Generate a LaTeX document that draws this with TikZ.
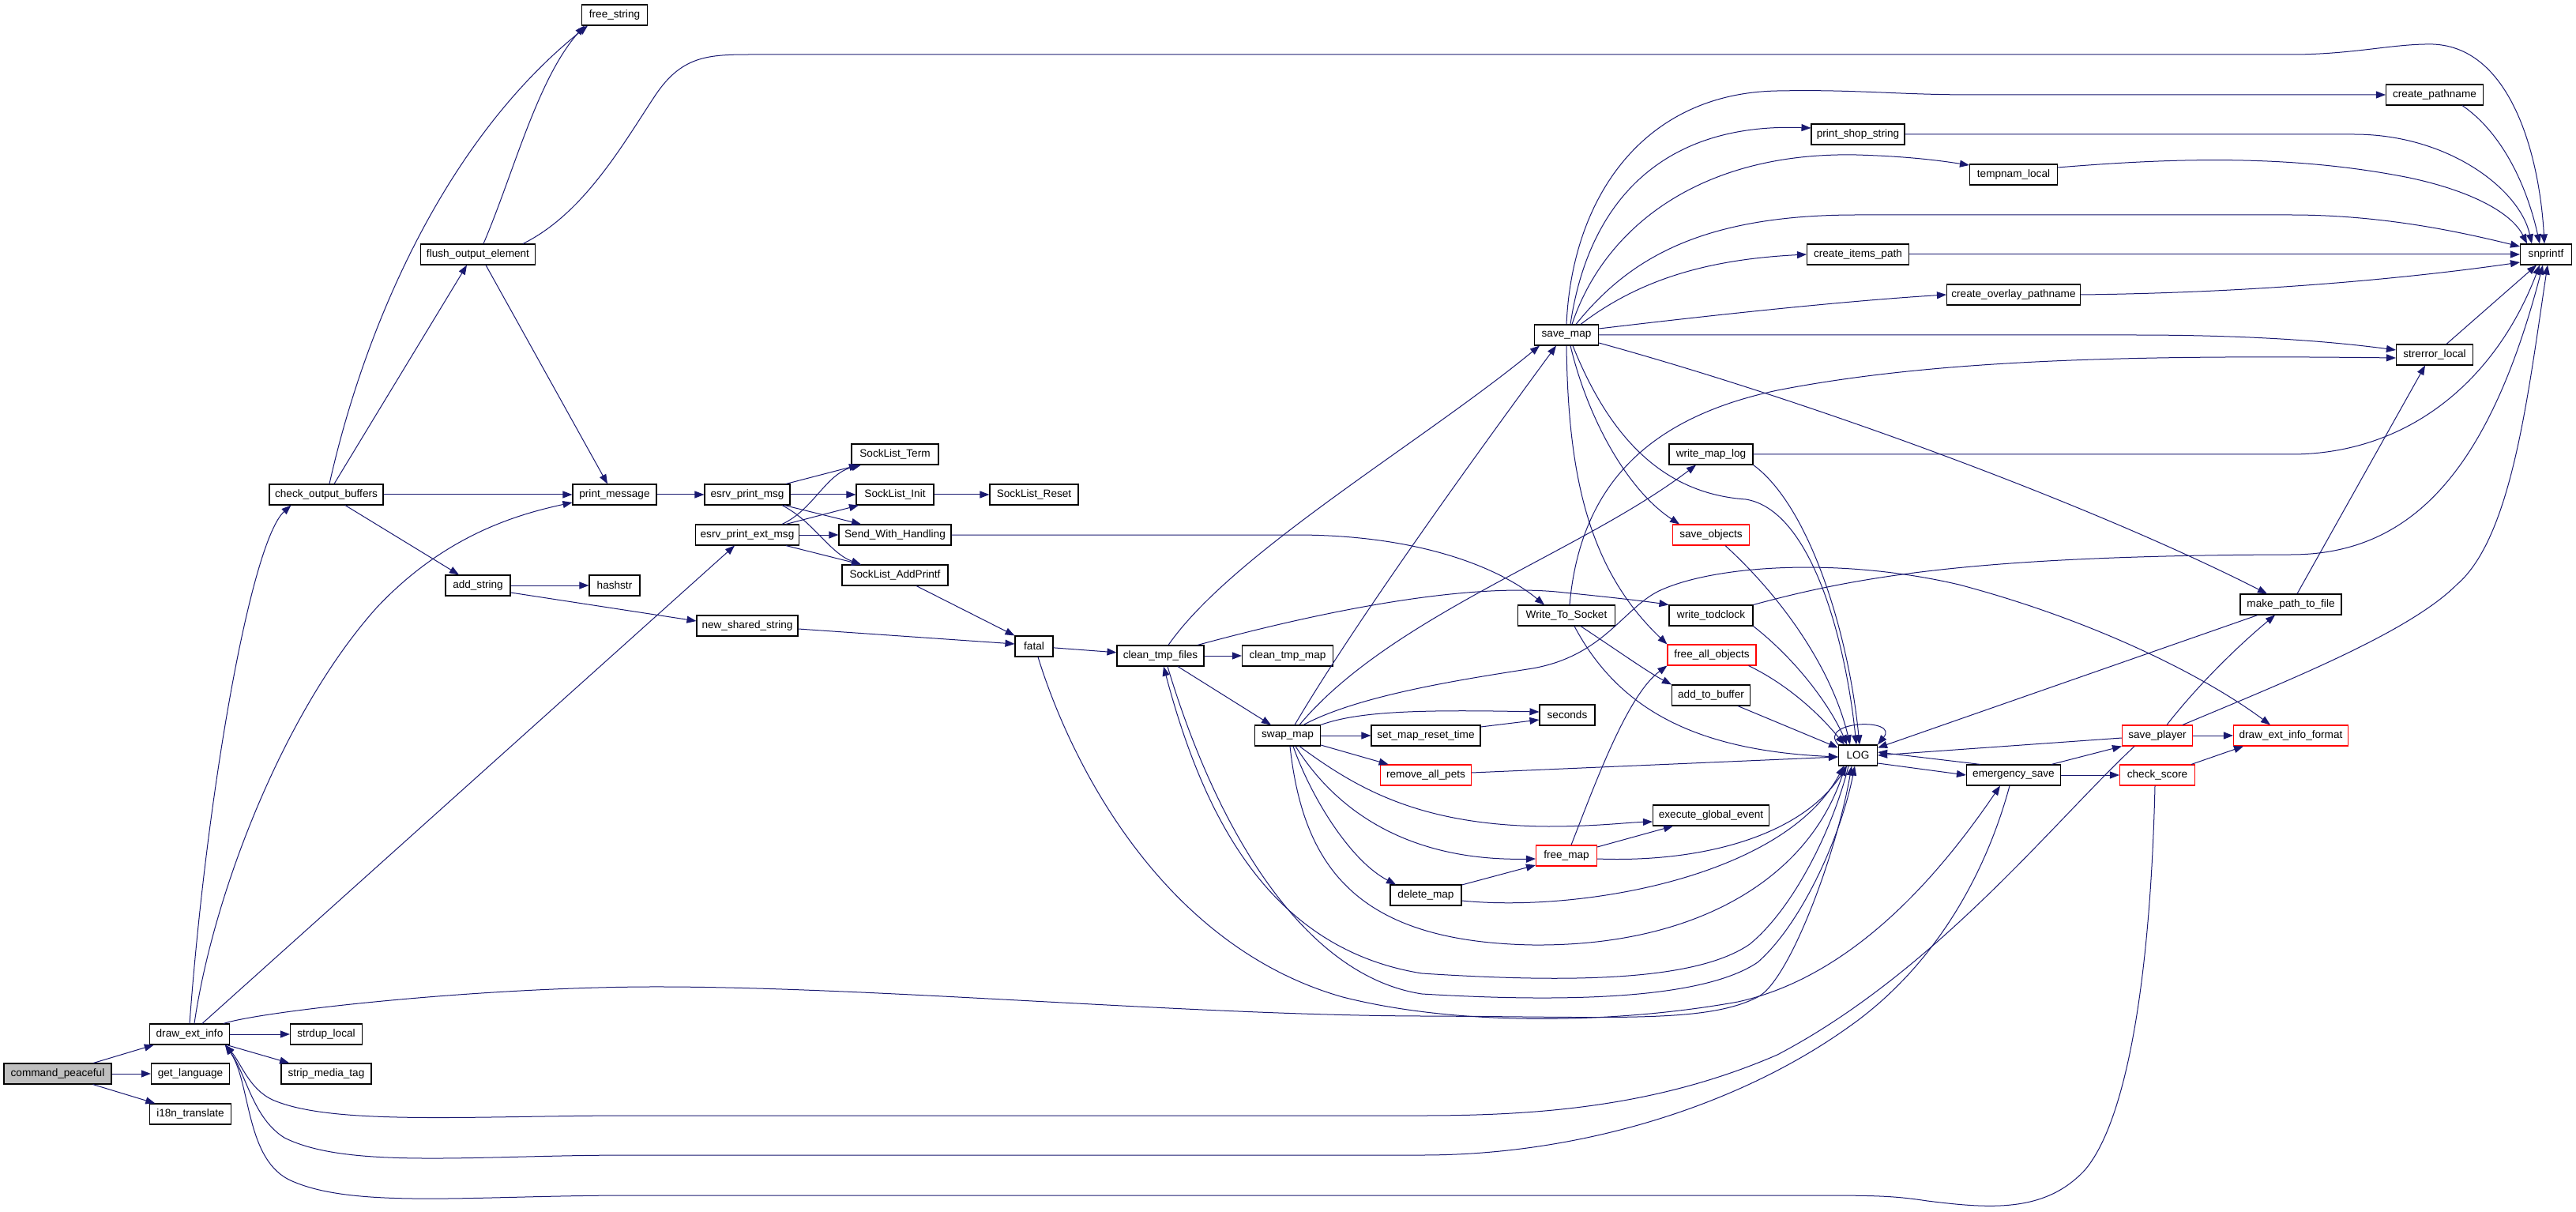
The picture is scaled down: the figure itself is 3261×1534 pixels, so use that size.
\documentclass[tikz,border=0pt]{standalone}
\usepackage{fontspec}
\setmainfont{Liberation Sans}
\usetikzlibrary{arrows.meta}
\definecolor{edgeblue}{RGB}{25,25,112}
\definecolor{nodegray}{RGB}{191,191,191}
\tikzset{
 fn/.style={draw=black, line width=0.55pt, minimum height=13pt, inner xsep=1pt, inner ysep=0pt, font=\fontsize{6.8pt}{7.5pt}\selectfont, fill=white},
 rn/.style={fn, draw=red},
 e/.style={draw=edgeblue, line width=0.5pt, -{Triangle[length=6pt,width=4.5pt]}},
 eb/.style={draw=edgeblue, line width=0.5pt, {Triangle[length=6pt,width=4.5pt]}-},
}
\begin{document}
\begin{tikzpicture}[x=0.5pt,y=-0.5pt]
\path[use as bounding box] (0,0) rectangle (3261,1534);
% nodes
\node[fn, minimum width=68pt, fill=nodegray] (cp) at (73,1359) {command\_peaceful};
\node[fn, minimum width=50.5pt] (dei) at (240,1309) {draw\_ext\_info};
\node[fn, minimum width=49.5pt] (gl) at (241,1359) {get\_language};
\node[fn, minimum width=51.5pt] (i18n) at (241,1410) {i18n\_translate};
\node[fn, minimum width=45.5pt] (sdl) at (413,1309) {strdup\_local};
\node[fn, minimum width=57pt] (smt) at (413,1359) {strip\_media\_tag};
\node[fn, minimum width=72pt] (cob) at (413,626) {check\_output\_buffers};
\node[fn, minimum width=72.5pt] (foe) at (605,322) {flush\_output\_element};
\node[fn, minimum width=41.5pt] (fs) at (778,19) {free\_string};
\node[fn, minimum width=53pt] (pm) at (778,626) {print\_message};
\node[fn, minimum width=41pt] (as) at (605,741) {add\_string};
\node[fn, minimum width=32pt] (hs) at (778,741) {hashstr};
\node[fn, minimum width=64pt] (nss) at (946,792) {new\_shared\_string};
\node[fn, minimum width=54pt] (epm) at (946,626) {esrv\_print\_msg};
\node[fn, minimum width=65.5pt] (epem) at (946,677) {esrv\_print\_ext\_msg};
\node[fn, minimum width=55pt] (slt) at (1133,575) {SockList\_Term};
\node[fn, minimum width=49pt] (sli) at (1133,626) {SockList\_Init};
\node[fn, minimum width=56pt] (slr) at (1309,626) {SockList\_Reset};
\node[fn, minimum width=71pt] (swh) at (1133,677) {Send\_With\_Handling};
\node[fn, minimum width=67pt] (slap) at (1133,728) {SockList\_AddPrintf};
\node[fn, minimum width=24pt] (fatal) at (1309,818) {fatal};
\node[fn, minimum width=55pt] (ctf) at (1469,830) {clean\_tmp\_files};
\node[fn, minimum width=57.5pt] (ctm) at (1630,830) {clean\_tmp\_map};
\node[fn, minimum width=41.5pt] (swm) at (1630,931) {swap\_map};
\node[fn, minimum width=40.5pt] (sm) at (1983,424) {save\_map};
\node[fn, minimum width=59pt] (pss) at (2352,170) {print\_shop\_string};
\node[fn, minimum width=61.5pt] (cpn) at (3082,120) {create\_pathname};
\node[fn, minimum width=55.5pt] (tnl) at (2549,221) {tempnam\_local};
\node[fn, minimum width=64.5pt] (cip) at (2352,322) {create\_items\_path};
\node[fn, minimum width=84.5pt] (cop) at (2549,373) {create\_overlay\_pathname};
\node[fn, minimum width=32.5pt] (snp) at (3223,322) {snprintf};
\node[fn, minimum width=48.5pt] (sel) at (3082,449) {strerror\_local};
\node[fn, minimum width=53pt] (wml) at (2166,575) {write\_map\_log};
\node[rn, minimum width=48.5pt] (so) at (2166,677) {save\_objects};
\node[fn, minimum width=61.5pt] (wts) at (1983,779) {Write\_To\_Socket};
\node[fn, minimum width=53pt] (wtc) at (2166,779) {write\_todclock};
\node[rn, minimum width=56pt] (fao) at (2167,829) {free\_all\_objects};
\node[fn, minimum width=49.5pt] (atb) at (2166,880) {add\_to\_buffer};
\node[fn, minimum width=35pt] (sec) at (1984,905) {seconds};
\node[fn, minimum width=69pt] (smrt) at (1805,931) {set\_map\_reset\_time};
\node[rn, minimum width=57.5pt] (rap) at (1805,981) {remove\_all\_pets};
\node[fn, minimum width=73.5pt] (ege) at (2166,1032) {execute\_global\_event};
\node[rn, minimum width=38.5pt] (fm) at (1983,1083) {free\_map};
\node[fn, minimum width=45pt] (dm) at (1805,1133) {delete\_map};
\node[fn, minimum width=24.5pt] (log) at (2352,956) {LOG};
\node[fn, minimum width=59.5pt] (es) at (2549,981) {emergency\_save};
\node[rn, minimum width=44.5pt] (sp) at (2731,931) {save\_player};
\node[rn, minimum width=47.5pt] (cs) at (2731,981) {check\_score};
\node[rn, minimum width=72.5pt] (deif) at (2900,931) {draw\_ext\_info\_format};
\node[fn, minimum width=64pt] (mptf) at (2900,765) {make\_path\_to\_file};
% command_peaceful
\draw[e] (cp) -- (dei);
\draw[e] (cp) -- (gl);
\draw[e] (cp) -- (i18n);
% draw_ext_info
\draw[e] (dei) -- (sdl);
\draw[e] (dei) -- (smt);
\draw[e] (dei.north) .. controls (262,1000) and (318,685) .. ([xshift=14pt]cob.south west);
\draw[e] ([xshift=3pt]dei.north) .. controls (270,1130) and (360,900) .. (476,770) .. controls (560,680) and (650,652) .. ([yshift=-5pt]pm.west);
\draw[e] ([xshift=8pt]dei.north) -- ([xshift=-8pt]epem.south);
\draw[e] ([xshift=-4pt]dei.north east) .. controls (330,1280) and (600,1250) .. (820,1249) .. controls (1100,1248) and (1500,1285) .. (1800,1286) .. controls (2050,1287) and (2160,1295) .. (2225,1262) .. controls (2265,1242) and (2325,1080) .. ([xshift=-4pt]log.south);
% check_output_buffers
\draw[e] ([xshift=2pt]cob.north) .. controls (460,420) and (560,180) .. ([xshift=-17pt]fs.south);
\draw[e] ([xshift=5pt]cob.north) -- ([xshift=-7pt]foe.south);
\draw[e] (cob) -- (pm);
\draw[e] ([xshift=12pt]cob.south) -- ([xshift=-12pt]as.north);
% add_string
\draw[e] (as) -- (hs);
\draw[e] ([yshift=-4.5pt]as.east) -- ([yshift=3pt]nss.west);
% flush_output_element
\draw[e] ([xshift=3.5pt]foe.north) .. controls (650,220) and (680,100) .. ([xshift=-19pt]fs.south);
\draw[e] ([xshift=5pt]foe.south) -- ([xshift=-4.5pt]pm.north);
\draw[e] ([xshift=28.5pt]foe.north) .. controls (740,270) and (790,180) .. (830,120) .. controls (865,68) and (900,69) .. (960,69) -- (2900,69) .. controls (2980,69) and (3030,55) .. (3080,56) .. controls (3180,60) and (3215,200) .. ([xshift=-1pt]snp.north);
% print_message
\draw[e] (pm) -- (epm);
% esrv_print_msg
\draw[e] ([xshift=24.5pt]epm.north) -- ([xshift=-23pt]slt.south);
\draw[e] (epm) -- (sli);
\draw[e] ([xshift=23.5pt]epm.south) -- ([xshift=-21.5pt]swh.north);
\draw[e] ([xshift=22pt]epm.south) .. controls (1030,660) and (1050,700) .. ([xshift=-21.5pt]slap.north);
% esrv_print_ext_msg
\draw[e] ([xshift=22pt]epem.north) .. controls (1030,645) and (1045,600) .. ([xshift=-21.5pt]slt.south);
\draw[e] ([xshift=24.5pt]epem.north) -- ([xshift=-23pt]sli.south);
\draw[e] (epem) -- (swh);
\draw[e] ([xshift=24.5pt]epem.south) -- ([xshift=-21.5pt]slap.north);
% SockList etc
\draw[e] (sli) -- (slr);
\draw[e] ([xshift=13.5pt]slap.south) -- (fatal.north west);
\draw[e] ([yshift=-2pt]nss.east) -- ([yshift=1.5pt]fatal.west);
\draw[e] (fatal) -- (ctf);
\draw[e] (swh.east) -- (1640,677) .. controls (1800,677) and (1900,720) .. ([xshift=-14pt]wts.north);
\draw[e] ([xshift=2.5pt]fatal.south) .. controls (1360,980) and (1480,1200) .. (1700,1262) .. controls (1850,1300) and (2050,1295) .. (2200,1268) .. controls (2350,1235) and (2460,1100) .. ([xshift=-8.5pt]es.south);
% clean_tmp_files
\draw[e] (ctf) -- (ctm);
\draw[e] ([xshift=11pt]ctf.south) -- ([xshift=-10.5pt]swm.north);
\draw[e] ([xshift=5pt]ctf.north) .. controls (1560,700) and (1800,560) .. ([xshift=-17pt]sm.south);
\draw[e] ([xshift=23.5pt]ctf.north) .. controls (1650,780) and (1850,735) .. (1980,750) .. controls (2050,757) and (2090,762) .. (wtc.north west);
\draw[eb] ([xshift=2pt]ctf.south) .. controls (1520,1020) and (1600,1200) .. (1800,1232) .. controls (2000,1245) and (2150,1240) .. (2215,1195) .. controls (2270,1150) and (2320,1050) .. ([xshift=-6pt]log.south);
\draw[e] ([xshift=4.5pt]ctf.south) .. controls (1540,1050) and (1650,1235) .. (1800,1258) .. controls (2000,1270) and (2160,1262) .. (2225,1218) .. controls (2280,1170) and (2330,1060) .. ([xshift=-2pt]log.south);
% swap_map
\draw[e] ([xshift=4.5pt]swm.north) .. controls (1720,780) and (1880,560) .. ([xshift=-6.5pt]sm.south);
\draw[e] ([xshift=7.5pt]swm.north) .. controls (1760,780) and (2000,700) .. ([xshift=-9.5pt]wml.south);
\draw[e] ([xshift=10pt]swm.north) .. controls (1720,880) and (1850,860) .. (1940,846) .. controls (2030,830) and (2055,770) .. (2100,748) .. controls (2170,715) and (2330,705) .. (2480,740) .. controls (2650,785) and (2790,855) .. ([xshift=-13pt]deif.north);
\draw[e] (swm) -- (smrt);
\draw[e] (swm.north east) .. controls (1720,900) and (1800,898) .. ([yshift=2pt]sec.west);
\draw[e] ([yshift=5.5pt]smrt.east) -- ([yshift=-3pt]sec.west);
\draw[e] (swm) -- (rap);
\draw[e] ([xshift=7.5pt]swm.south) .. controls (1720,1000) and (1800,1045) .. (1960,1046) .. controls (2020,1046) and (2060,1041) .. ([yshift=-4pt]ege.west);
\draw[e] ([xshift=5pt]swm.south) .. controls (1700,1040) and (1800,1090) .. ([yshift=-2pt]fm.west);
\draw[e] ([xshift=3.5pt]swm.south) .. controls (1660,1010) and (1710,1090) .. ([xshift=-19pt]dm.north);
\draw[e] ([xshift=1.5pt]swm.south) .. controls (1650,1100) and (1720,1192) .. (1940,1196) .. controls (2150,1198) and (2290,1110) .. ([xshift=-8pt]log.south);
% remove_all_pets, free_map, delete_map
\draw[e] ([yshift=1.5pt]rap.east) -- ([yshift=-1pt]log.west);
\draw[e] ([xshift=3pt]fm.north) .. controls (2020,990) and (2060,880) .. (fao.south west);
\draw[e] ([yshift=5.5pt]fm.east) -- ([xshift=-24pt]ege.south);
\draw[e] ([yshift=-2pt]fm.east) .. controls (2150,1092) and (2280,1060) .. ([xshift=-7pt]log.south);
\draw[e] ([yshift=6.5pt]dm.east) -- ([yshift=-6pt]fm.west);
\draw[e] ([yshift=-3.5pt]dm.east) .. controls (2000,1155) and (2260,1110) .. ([xshift=-9pt]log.south);
% save_map
\draw[e] (sm.north) .. controls (1990,250) and (2080,118) .. (2250,115) .. controls (2350,113) and (2400,120) .. (2500,120) -- (cpn.west);
\draw[e] ([xshift=2.5pt]sm.north) .. controls (2010,260) and (2100,155) .. ([yshift=4pt]pss.west);
\draw[e] ([xshift=3.5pt]sm.north) .. controls (2030,290) and (2150,192) .. (2350,196) .. controls (2420,198) and (2460,204) .. ([yshift=6pt]tnl.west);
\draw[e] ([xshift=6pt]sm.north) .. controls (2060,330) and (2150,272) .. (2350,272) -- (2900,272) .. controls (3020,272) and (3120,295) .. ([yshift=5pt]snp.west);
\draw[e] ([xshift=9pt]sm.north) .. controls (2080,350) and (2170,328) .. (cip.west);
\draw[e] ([yshift=4pt]sm.east) .. controls (2200,395) and (2350,380) .. (cop.west);
\draw[e] (sm.east) -- (2700,424) .. controls (2850,424) and (2950,432) .. ([yshift=3pt]sel.west);
\draw[e] ([yshift=-5pt]sm.east) .. controls (2300,510) and (2650,640) .. ([xshift=-15pt]mptf.north);
\draw[e] ([xshift=2.5pt]sm.south) .. controls (2010,530) and (2060,620) .. ([xshift=-20pt]so.north);
\draw[e] (sm.south) .. controls (1985,600) and (2010,720) .. (fao.north west);
\draw[e] ([xshift=4pt]sm.south) .. controls (2040,560) and (2110,625) .. (2210,632) .. controls (2290,645) and (2335,800) .. ([xshift=-1pt]log.north);
% write_map_log, save_objects
\draw[e] (wml.south east) .. controls (2290,640) and (2340,800) .. ([xshift=1pt]log.north);
\draw[e] ([xshift=9pt]so.south) .. controls (2260,760) and (2320,850) .. ([xshift=-5pt]log.north);
\draw[e] (wml.east) -- (2900,575) .. controls (3050,575) and (3160,480) .. ([xshift=-4pt]snp.south);
% Write_To_Socket
\draw[e] ([xshift=2pt]wts.north) .. controls (2000,620) and (2080,530) .. (2250,494) .. controls (2450,455) and (2700,449) .. ([yshift=-2pt]sel.west);
\draw[e] ([xshift=9pt]wts.south) .. controls (2050,825) and (2085,850) .. (atb.north west);
\draw[e] ([xshift=5pt]wts.south) .. controls (2050,900) and (2150,950) .. ([yshift=-1pt]log.west);
% write_todclock, free_all_objects, add_to_buffer
\draw[e] (wtc.south east) .. controls (2280,840) and (2320,900) .. ([xshift=-7pt]log.north);
\draw[e] (wtc.north east) .. controls (2350,730) and (2500,703) .. (2900,702) .. controls (3050,702) and (3150,600) .. ([xshift=-2pt]snp.south);
\draw[e] ([xshift=-5pt]fao.south east) .. controls (2260,865) and (2300,900) .. ([xshift=4pt]log.north west);
\draw[e] ([xshift=17pt]atb.south) -- ([yshift=-2pt]log.north west);
% LOG
\draw[e] (log.north west) .. controls (2300,912) and (2405,908) .. (log.north east);
\draw[e] ([yshift=-5pt]log.east) -- (es.west);
% emergency_save
\draw[e] ([xshift=-21pt]es.north) -- ([yshift=2pt]log.east);
\draw[e] ([xshift=24pt]es.north) -- (sp.south west);
\draw[e] (es) -- (cs);
\draw[e] ([xshift=-2.5pt]es.south) .. controls (2510,1120) and (2440,1230) .. (2340,1300) .. controls (2200,1400) and (2000,1462) .. (1800,1462) -- (800,1462) .. controls (600,1462) and (440,1480) .. (360,1440) .. controls (320,1415) and (312,1360) .. ([xshift=-3pt]dei.south east);
% make_path_to_file
\draw[e] ([xshift=-21pt]mptf.south) -- ([yshift=-2pt]log.north east);
\draw[e] ([xshift=4pt]mptf.north) -- ([xshift=-6pt]sel.south);
% save_player
\draw[e] ([yshift=-1.5pt]sp.west) -- (log.east);
\draw[e] ([xshift=-14.5pt]sp.south) .. controls (2600,1040) and (2450,1230) .. (2250,1335) .. controls (2100,1400) and (1950,1412) .. (1800,1412) -- (800,1412) .. controls (600,1412) and (420,1425) .. (345,1392) .. controls (315,1378) and (305,1345) .. ([xshift=-3pt]dei.south east);
\draw[e] ([xshift=6pt]sp.north) .. controls (2780,870) and (2830,820) .. ([xshift=-10pt]mptf.south);
\draw[e] ([xshift=16pt]sp.north) .. controls (2900,860) and (3050,800) .. (3110,740) .. controls (3180,680) and (3200,500) .. ([xshift=1pt]snp.south);
\draw[e] (sp) -- (deif);
% check_score
\draw[e] ([xshift=21.5pt]cs.north) -- ([xshift=-30pt]deif.south);
\draw[e] ([xshift=-1.5pt]cs.south) .. controls (2722,1250) and (2690,1420) .. (2640,1480) .. controls (2590,1535) and (2520,1530) .. (2440,1520) .. controls (2400,1514) and (2380,1513) .. (2300,1513) -- (800,1513) .. controls (600,1513) and (450,1530) .. (370,1495) .. controls (310,1470) and (318,1370) .. ([xshift=-3pt]dei.south east);
% into snprintf
\draw[e] ([xshift=7.5pt]sel.north) -- ([xshift=-6pt]snp.south);
\draw[e] ([xshift=17.5pt]cpn.south) .. controls (3170,170) and (3200,240) .. ([xshift=-4pt]snp.north);
\draw[e] (pss.east) -- (2980,170) .. controls (3100,170) and (3190,240) .. ([xshift=-9pt]snp.north);
\draw[e] ([yshift=4.5pt]tnl.east) .. controls (2750,200) and (2900,195) .. (3050,225) .. controls (3130,242) and (3180,270) .. ([xshift=-12pt]snp.north);
\draw[e] (cip) -- (snp);
\draw[e] (cop.east) .. controls (2900,370) and (3100,345) .. ([yshift=-5pt]snp.west);
\end{tikzpicture}
\end{document}
